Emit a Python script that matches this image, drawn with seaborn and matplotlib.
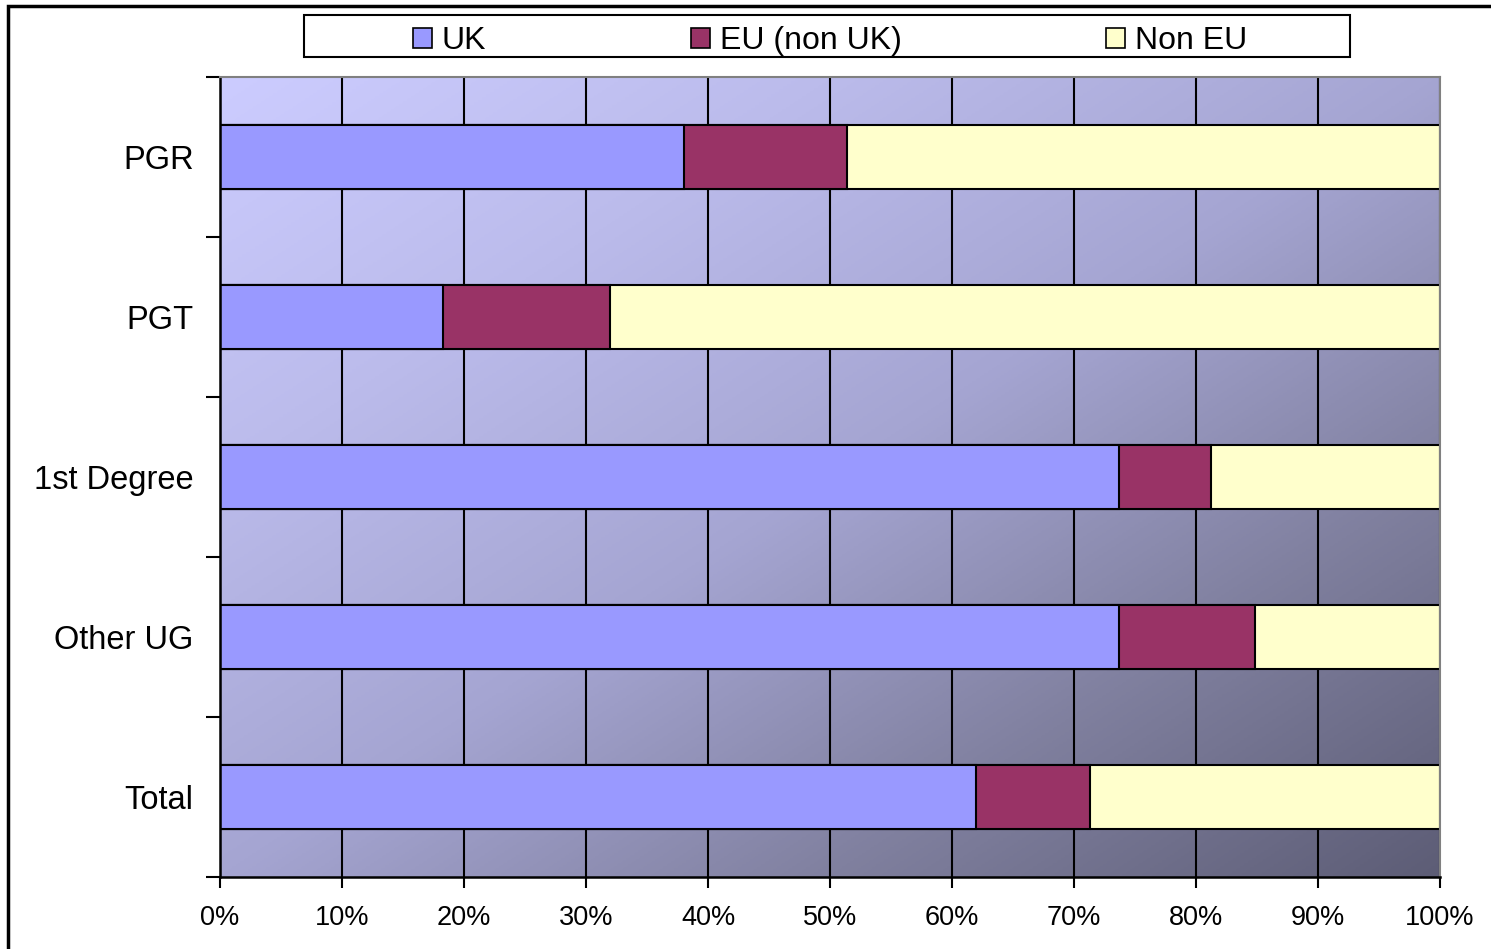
import numpy as np
import pandas as pd
import matplotlib
matplotlib.use("Agg")
import matplotlib.pyplot as plt
import seaborn as sns
from matplotlib.patches import Rectangle, Patch
from matplotlib.colors import LinearSegmentedColormap

# shares by student group (%)
categories = ["PGR", "PGT", "1st Degree", "Other UG", "Total"]
uk = [38.0, 18.3, 73.7, 73.7, 62.0]
eu = [13.4, 13.7, 7.5, 11.1, 9.3]
non_eu = [48.6, 68.0, 18.8, 15.2, 28.7]
series = ["UK", "EU (non UK)", "Non EU"]
colors = ["#9999FF", "#993366", "#FFFFCC"]
xticks = list(range(0, 101, 10))

df = pd.DataFrame({"cat": categories, "uk": uk, "eu": eu, "non_eu": non_eu})
df["uk_eu"] = df["uk"] + df["eu"]
df["all"] = df["uk_eu"] + df["non_eu"]

sns.set_style("white")
plt.rcParams["font.family"] = ["Liberation Sans", "DejaVu Sans"]
plt.rcParams["text.color"] = "black"
plt.rcParams["xtick.color"] = "black"
plt.rcParams["ytick.color"] = "black"

fig = plt.figure(figsize=(14.91, 9.49), dpi=100)
ax = fig.add_axes([220 / 1491, 1 - 877 / 949, 1220 / 1491, 800 / 949])

# diagonal gradient background of the plot area
gx, gy = np.meshgrid(np.linspace(0, 1, 300), np.linspace(0, 1, 300))
grad = (gx + gy) / 2
cmap = LinearSegmentedColormap.from_list(
    "bg", [(0, "#CCCCFF"), (0.25, "#BBBBEB"), (0.5, "#A5A5D2"),
           (0.75, "#80809F"), (1, "#5D5D76")])
ax.imshow(grad, cmap=cmap, extent=(0, 1, 0, 1), origin="upper",
          transform=ax.transAxes, aspect="auto", zorder=0)

# stacked bars: draw cumulative totals from widest to narrowest
for col, c in zip(["all", "uk_eu", "uk"], colors[::-1]):
    sns.barplot(data=df, x=col, y="cat", orient="h", color=c, saturation=1,
                width=0.4, edgecolor="black", linewidth=1.5, errorbar=None, ax=ax)

ax.set_xlim(0, 100)
ax.set_ylim(4.5, -0.5)
ax.set_xlabel("")
ax.set_ylabel("")

ax.set_axisbelow(True)
ax.xaxis.grid(True, color="black", linewidth=1.5)
ax.yaxis.grid(False)

ax.set_xticks(xticks, [f"{v}%" for v in xticks])
ax.set_yticks(range(len(categories)), categories)
ax.set_yticks(np.arange(-0.5, len(categories), 1), minor=True)
ax.tick_params(axis="x", length=8, width=1.5, color="black", direction="out",
               pad=12, labelsize=19.5, bottom=True, labelcolor="black")
ax.tick_params(axis="y", which="major", length=0, pad=19, labelsize=23.5,
               labelcolor="black")
ax.tick_params(axis="y", which="minor", length=10, width=1.5, color="black",
               direction="out", left=True)

for side in ["left", "bottom"]:
    ax.spines[side].set_color("black")
    ax.spines[side].set_linewidth(1.8)
for side in ["top", "right"]:
    ax.spines[side].set_color("#808080")
    ax.spines[side].set_linewidth(1.5)

# legend box
handles = [Patch(facecolor=c, edgecolor="black", linewidth=1.2) for c in colors]
fig.legend(handles, series, loc="center", bbox_to_anchor=(830 / 1491, 1 - 41 / 949),
           ncol=3, frameon=False, fontsize=23, handlelength=0.6, handleheight=0.6,
           handletextpad=0.3, columnspacing=6.4, labelcolor="black")
fig.patches.append(Rectangle((304 / 1491, 1 - 57 / 949), 1046 / 1491, 42 / 949,
                             transform=fig.transFigure, fill=False,
                             edgecolor="black", linewidth=1.5))

# outer chart border
fig.patches.append(Rectangle((8 / 1491, -0.1), 1.2, 1.1 - 6 / 949,
                             transform=fig.transFigure, fill=False,
                             edgecolor="black", linewidth=2.5))

fig.savefig("out.png", dpi=100)
